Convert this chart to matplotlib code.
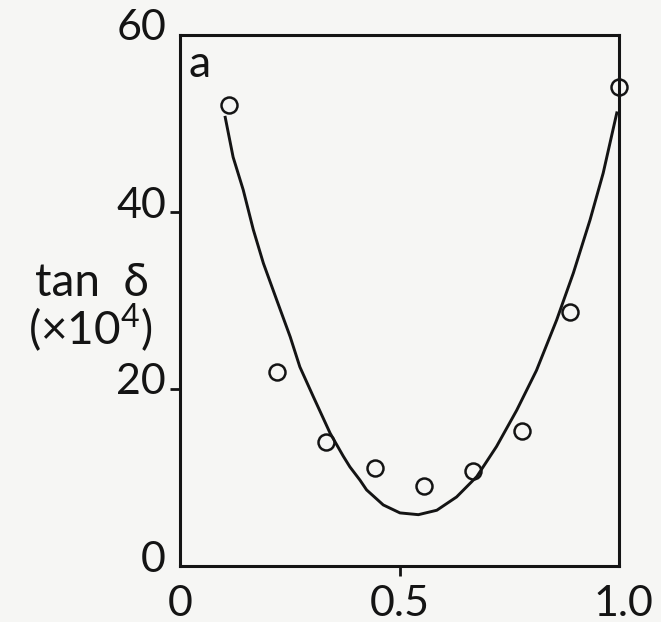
import matplotlib
matplotlib.use("Agg")
import matplotlib.pyplot as plt
import matplotlib.transforms as mtransforms

# measured points (tan delta x 10^4)
x_pts = [0.111, 0.222, 0.333, 0.444, 0.556, 0.667, 0.778, 0.889, 1.0]
y_pts = [52.1, 21.9, 14.0, 11.1, 9.0, 10.7, 15.3, 28.7, 54.1]

# fitted curve
x_fit = [0.103, 0.121, 0.144, 0.167, 0.190, 0.220, 0.251, 0.273, 0.304, 0.342,
         0.372, 0.387, 0.410, 0.425, 0.463, 0.501, 0.543, 0.585, 0.630, 0.676,
         0.721, 0.767, 0.812, 0.858, 0.896, 0.934, 0.964, 0.995]
y_fit = [50.7, 46.2, 42.5, 38.0, 34.2, 30.1, 25.9, 22.5, 19.1, 15.0,
         12.4, 11.2, 9.7, 8.6, 6.9, 6.0, 5.8, 6.3, 7.8, 10.1,
         13.5, 17.6, 22.1, 27.8, 33.1, 39.1, 44.4, 51.2]

xticks = [0, 0.5, 1.0]
xticklabels = ["0", "0.5", "1.0"]
yticks = [0, 20, 40, 60]
yticklabels = ["0", "20", "40", "60"]

ink = "#141414"
bg = "#f6f6f4"
plt.rcParams["font.family"] = ["Lato", "DejaVu Sans"]
plt.rcParams["mathtext.fontset"] = "custom"
plt.rcParams["mathtext.rm"] = "Lato"

fig = plt.figure(figsize=(6.61, 6.22), dpi=100, facecolor=bg)
ax = fig.add_axes([180 / 661, 1 - 566 / 622, (619 - 180) / 661, (566 - 35) / 622])
ax.set_facecolor(bg)

ax.plot(x_fit, y_fit, color=ink, lw=2.1, solid_joinstyle="round")
ax.plot(x_pts, y_pts, "o", ms=11.5, mfc="none", mec=ink, mew=1.8, clip_on=False)

ax.set_xlim(0, 1.0)
ax.set_ylim(0, 60)
for s in ax.spines.values():
    s.set_linewidth(2.2)
    s.set_color(ink)

ax.set_xticks(xticks)
ax.set_xticklabels(xticklabels)
ax.set_yticks(yticks)
ax.set_yticklabels(yticklabels)
ax.tick_params(direction="out", length=7, width=2, color=ink, labelcolor=ink,
               labelsize=31, pad=3)

# no tick marks at the corners
for i in (0, 3):
    ax.yaxis.get_major_ticks()[i].tick1line.set_visible(False)
ax.xaxis.get_major_ticks()[0].tick1line.set_visible(False)
ax.xaxis.get_major_ticks()[2].tick1line.set_visible(False)

# y labels sit a bit above their ticks
shift_up = mtransforms.ScaledTranslation(0, 10 / 100, fig.dpi_scale_trans)
for lab in ax.get_yticklabels():
    lab.set_transform(lab.get_transform() + shift_up)
shift_down = mtransforms.ScaledTranslation(0.04, -5 / 100, fig.dpi_scale_trans)
ax.get_xticklabels()[2].set_transform(ax.get_xticklabels()[2].get_transform() + shift_down)
shift_down0 = mtransforms.ScaledTranslation(0, -5 / 100, fig.dpi_scale_trans)
for lab in ax.get_xticklabels()[:2]:
    lab.set_transform(lab.get_transform() + shift_down0)

ax.text(0.045, 0.945, "a", transform=ax.transAxes, fontsize=32,
        color=ink, ha="center", va="center")

fig.text(92 / 661, 1 - 283 / 622, "tan  δ", fontsize=33,
         color=ink, ha="center", va="center")
fig.text(90 / 661, 1 - 328 / 622, "(×10$^{4}$)", fontsize=33,
         color=ink, ha="center", va="center")

fig.savefig("out.png", dpi=100, facecolor=bg)
